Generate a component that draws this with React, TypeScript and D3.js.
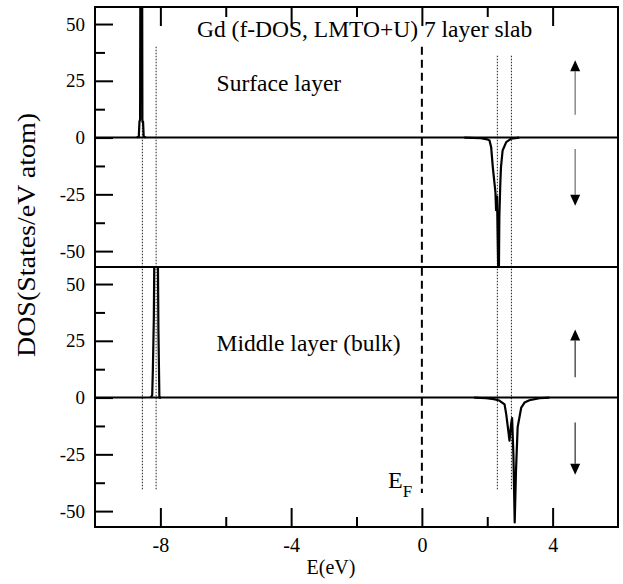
import React, { useEffect, useRef } from "react";
import * as d3 from "d3";

const W = 623;
const H = 584;
const FONT = "Liberation Serif, Times New Roman, serif";

// axes
const energyDomain = [-10, 6];
const dosDomain = [-57, 57.5];
const energyMajor = [-8, -4, 0, 4];
const energyMinor = [-6, -2, 2];
const dosMajor = [-50, -25, 0, 25, 50];
const dosMinor = [-37.5, -12.5, 12.5, 37.5];

// f-DOS: [E (eV), DOS]
const surfaceUp: [number, number][] = [
  [-8.72, 0], [-8.66, 0.5], [-8.64, 7], [-8.62, 8], [-8.61, 90],
  [-8.56, 90], [-8.55, 7], [-8.53, 7], [-8.51, 0.5], [-8.45, 0],
];
const surfaceDown: [number, number][] = [
  [1.3, 0], [1.8, -0.3], [2.0, -0.8], [2.07, -1.3], [2.12, -4.3], [2.17, -13],
  [2.22, -20], [2.25, -24], [2.27, -32], [2.3, -26], [2.32, -45], [2.35, -70],
  [2.37, -35], [2.4, -20], [2.42, -13], [2.47, -5.7], [2.58, -2], [2.73, -0.5], [2.98, 0],
];
const middleUp: [number, number][] = [
  [-8.3, 0], [-8.25, 1], [-8.23, 12], [-8.2, 35], [-8.17, 90],
  [-8.09, 90], [-8.06, 30], [-8.03, 0], [-7.98, 0],
];
const middleDown: [number, number][] = [
  [1.6, 0], [1.97, -0.3], [2.2, -0.7], [2.37, -1.3], [2.53, -3], [2.58, -7.3],
  [2.63, -13], [2.68, -19], [2.73, -11.7], [2.76, -9], [2.8, -25], [2.84, -55],
  [2.88, -32], [2.93, -13], [3.04, -4.4], [3.14, -2.2], [3.29, -1.2], [3.6, -0.3], [3.9, 0],
];

const panelNames = ["Surface layer", "Middle layer (bulk)"];
const upCurves = [surfaceUp, middleUp];
const downCurves = [surfaceDown, middleDown];
const arrowE = 4.69;
const upArrows: [number, number][] = [[10, 34], [9, 30]]; // [tail, tip]
const downArrows: [number, number][] = [[-5, -30], [-11, -34]];
const arrowColors = ["#8a8a8a", "#555"];

// guide lines
const dottedE = [-8.55, -8.13, 2.31, 2.74];
const dottedTop = [40, 40, 36, 36]; // in top panel units
const dottedBottom = -41; // in bottom panel units
const fermiE = 0;

export default function App() {
  const ref = useRef<SVGSVGElement>(null);

  useEffect(() => {
    const svg = d3.select(ref.current);
    svg.selectAll("*").remove();

    const left = 95, right = 618, top = 7, bottom = 527;
    const panelH = (bottom - top) / 2;

    const x = d3.scaleLinear(energyDomain, [left, right]);
    const ys = [
      d3.scaleLinear(dosDomain, [top + panelH, top]),
      d3.scaleLinear(dosDomain, [bottom, top + panelH]),
    ];
    const line = (y: d3.ScaleLinear<number, number>) =>
      d3.line<[number, number]>().x(d => x(d[0])).y(d => y(d[1]));

    const styleAxis = (g: any, size: number) => {
      g.attr("font-family", null).attr("font-size", null);
      g.select(".domain").remove();
      g.selectAll("line").attr("stroke", "#000").attr("stroke-width", 2);
      g.selectAll("text").style("font-size", `${size}px`).style("font-family", FONT).attr("fill", "#000");
    };

    // dotted guide lines
    dottedE.forEach((e, i) => {
      svg.append("line")
        .attr("x1", x(e)).attr("x2", x(e))
        .attr("y1", ys[0](dottedTop[i])).attr("y2", ys[1](dottedBottom))
        .attr("stroke", "#333").attr("stroke-width", 1.1)
        .attr("stroke-dasharray", "1.5,1.5");
    });

    // Fermi level
    svg.append("line")
      .attr("x1", x(fermiE)).attr("x2", x(fermiE))
      .attr("y1", ys[0](40)).attr("y2", ys[1](-42))
      .attr("stroke", "#000").attr("stroke-width", 2)
      .attr("stroke-dasharray", "8,5");

    ys.forEach((y, i) => {
      const clipId = `panel-clip-${i}`;
      svg.append("clipPath").attr("id", clipId)
        .append("rect")
        .attr("x", left).attr("y", y.range()[1])
        .attr("width", right - left).attr("height", panelH);

      // zero line
      svg.append("line")
        .attr("x1", left).attr("x2", right)
        .attr("y1", y(0)).attr("y2", y(0))
        .attr("stroke", "#000").attr("stroke-width", 2);

      [upCurves[i], downCurves[i]].forEach(curve => {
        svg.append("path")
          .datum(curve)
          .attr("d", line(y))
          .attr("fill", "none")
          .attr("stroke", "#000")
          .attr("stroke-width", 2.2)
          .attr("stroke-linejoin", "round")
          .attr("clip-path", `url(#${clipId})`);
      });

      // left axis
      svg.append("g")
        .attr("transform", `translate(${left},0)`)
        .call(d3.axisLeft(y).tickValues(dosMajor).tickSize(-18).tickPadding(10).tickFormat(d => String(d)))
        .call(g => styleAxis(g, 19));
      svg.append("g")
        .attr("transform", `translate(${left},0)`)
        .call(d3.axisLeft(y).tickValues(dosMinor).tickSize(-10).tickFormat(() => ""))
        .call(g => styleAxis(g, 19));

      // spin arrows
      const ax = x(arrowE);
      const head = 11, half = 5;
      [upArrows[i], downArrows[i]].forEach(([tail, tip], k) => {
        const dir = k === 0 ? 1 : -1; // 1 = points up
        const yTip = y(tip);
        svg.append("line")
          .attr("x1", ax).attr("x2", ax)
          .attr("y1", y(tail)).attr("y2", yTip + dir * head)
          .attr("stroke", arrowColors[i]).attr("stroke-width", 1.5);
        svg.append("path")
          .attr("d", `M${ax},${yTip}L${ax - half},${yTip + dir * head}L${ax + half},${yTip + dir * head}Z`)
          .attr("fill", "#000");
      });

      svg.append("text")
        .attr("x", x(-6.28)).attr("y", y(20.5))
        .style("font-family", FONT).style("font-size", "23.5px")
        .text(panelNames[i]);
    });

    // panel divider + frame
    svg.append("line")
      .attr("x1", left).attr("x2", right)
      .attr("y1", top + panelH).attr("y2", top + panelH)
      .attr("stroke", "#000").attr("stroke-width", 2);
    svg.append("rect")
      .attr("x", left).attr("y", top)
      .attr("width", right - left).attr("height", bottom - top)
      .attr("fill", "none").attr("stroke", "#000").attr("stroke-width", 2);

    // x axes
    svg.append("g")
      .attr("transform", `translate(0,${bottom})`)
      .call(d3.axisBottom(x).tickValues(energyMajor).tickSize(-19).tickPadding(10.5).tickFormat(d => String(d)))
      .call(g => styleAxis(g, 20));
    svg.append("g")
      .attr("transform", `translate(0,${bottom})`)
      .call(d3.axisBottom(x).tickValues(energyMinor).tickSize(-10).tickFormat(() => ""))
      .call(g => styleAxis(g, 20));
    svg.append("g")
      .attr("transform", `translate(0,${top})`)
      .call(d3.axisTop(x).tickValues(energyMajor).tickSize(-19).tickFormat(() => ""))
      .call(g => styleAxis(g, 20));
    svg.append("g")
      .attr("transform", `translate(0,${top})`)
      .call(d3.axisTop(x).tickValues(energyMinor).tickSize(-10).tickFormat(() => ""))
      .call(g => styleAxis(g, 20));

    // title
    svg.append("text")
      .attr("x", 197).attr("y", 37)
      .style("font-family", FONT).style("font-size", "23.5px")
      .text("Gd (f-DOS, LMTO+U) 7 layer slab");

    // E_F label
    const ef = svg.append("text")
      .attr("x", 388).attr("y", ys[1](-39.8))
      .style("font-family", FONT).style("font-size", "24px");
    ef.append("tspan").text("E");
    ef.append("tspan").style("font-size", "17px").attr("dy", 9).text("F");

    // axis titles
    svg.append("text")
      .attr("x", 331).attr("y", 574)
      .attr("text-anchor", "middle")
      .style("font-family", FONT).style("font-size", "20px")
      .text("E(eV)");
    svg.append("text")
      .attr("transform", "translate(35,235) rotate(-90)")
      .attr("text-anchor", "middle")
      .style("font-family", FONT).style("font-size", "26px")
      .attr("textLength", 244).attr("lengthAdjust", "spacingAndGlyphs")
      .text("DOS(States/eV atom)");
  }, []);

  return (
    <svg
      ref={ref}
      width={W}
      height={H}
      style={{ position: "absolute", left: 0, top: 0, background: "#fff" }}
    />
  );
}
